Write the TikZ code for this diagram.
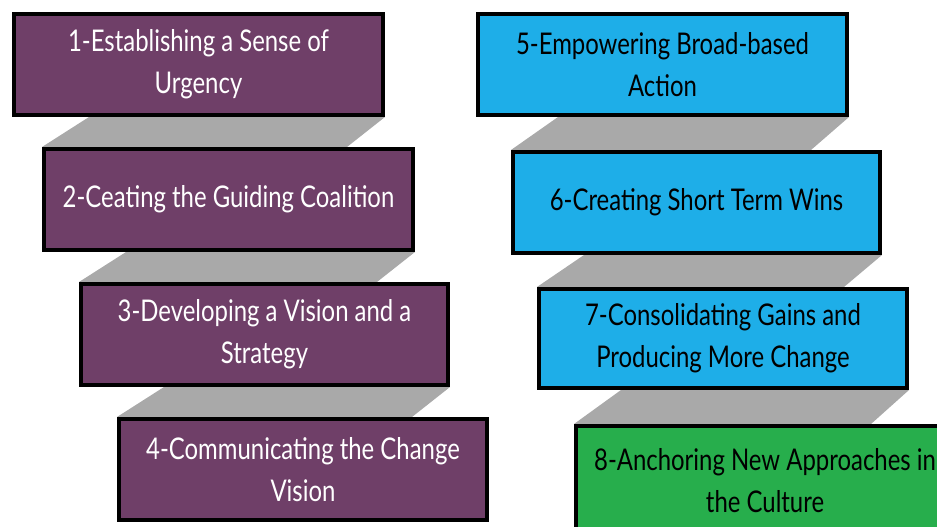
\documentclass[tikz,border=0pt]{standalone}
\usepackage{fontspec}
\setmainfont{Lato}[FakeStretch=0.80]
\usetikzlibrary{calc,backgrounds}
\definecolor{purp}{HTML}{6F3F68}
\definecolor{sky}{HTML}{1EAEE8}
\definecolor{grn}{HTML}{27AE4C}
\definecolor{stair}{HTML}{A9A9A9}
\tikzset{
  stepbox/.style={draw=black, line width=4bp, minimum width=369bp, minimum height=101bp,
    anchor=north west, align=center, inner sep=0pt,
    font=\fontsize{30}{42}\selectfont},
  purpbox/.style={stepbox, fill=purp, text=white},
  bluebox/.style={stepbox, fill=sky, text=black},
  grnbox/.style={stepbox, fill=grn, text=black},
  stairs/.style={fill=stair, draw=none}
}
\begin{document}
\begin{tikzpicture}[x=1bp,y=-1bp]
\useasboundingbox (0,0) rectangle (937,527);
\clip (0,0) rectangle (937,527);
\node[purpbox] (b1) at (12,12) {1-Establishing a Sense of\\Urgency};
\node[purpbox] (b2) at (42,147) {2-Ceating the Guiding Coalition};
\node[purpbox, minimum width=367bp] (b3) at (79,282) {3-Developing a Vision and a\\Strategy};
\node[purpbox, minimum width=368bp] (b4) at (117,417) {4-Communicating the Change\\Vision};
\node[bluebox] (b5) at (476,12) {5-Empowering Broad-based\\Action};
\node[bluebox, minimum width=367bp] (b6) at (511,150) {6-Creating Short Term Wins};
\node[bluebox, minimum width=368bp, minimum height=99bp] (b7) at (537,287) {7-Consolidating Gains and\\Producing More Change};
\node[grnbox, minimum width=378bp, minimum height=110bp] (b8) at (574,424) {8-Anchoring New Approaches in\\the Culture};
\begin{scope}[on background layer]
  \foreach \a/\b in {b1/b2,b2/b3,b3/b4,b5/b6,b6/b7,b7/b8}{
    \fill[stairs] (\b.north west) -- ($(\b.north west |- \a.south)+(47,0)$)
      -- ($(\a.south east)+(0,0)$) -- ($(\a.south east |- \b.north)+(-38,0)$) -- cycle;
  }
\end{scope}
\end{tikzpicture}
\end{document}
